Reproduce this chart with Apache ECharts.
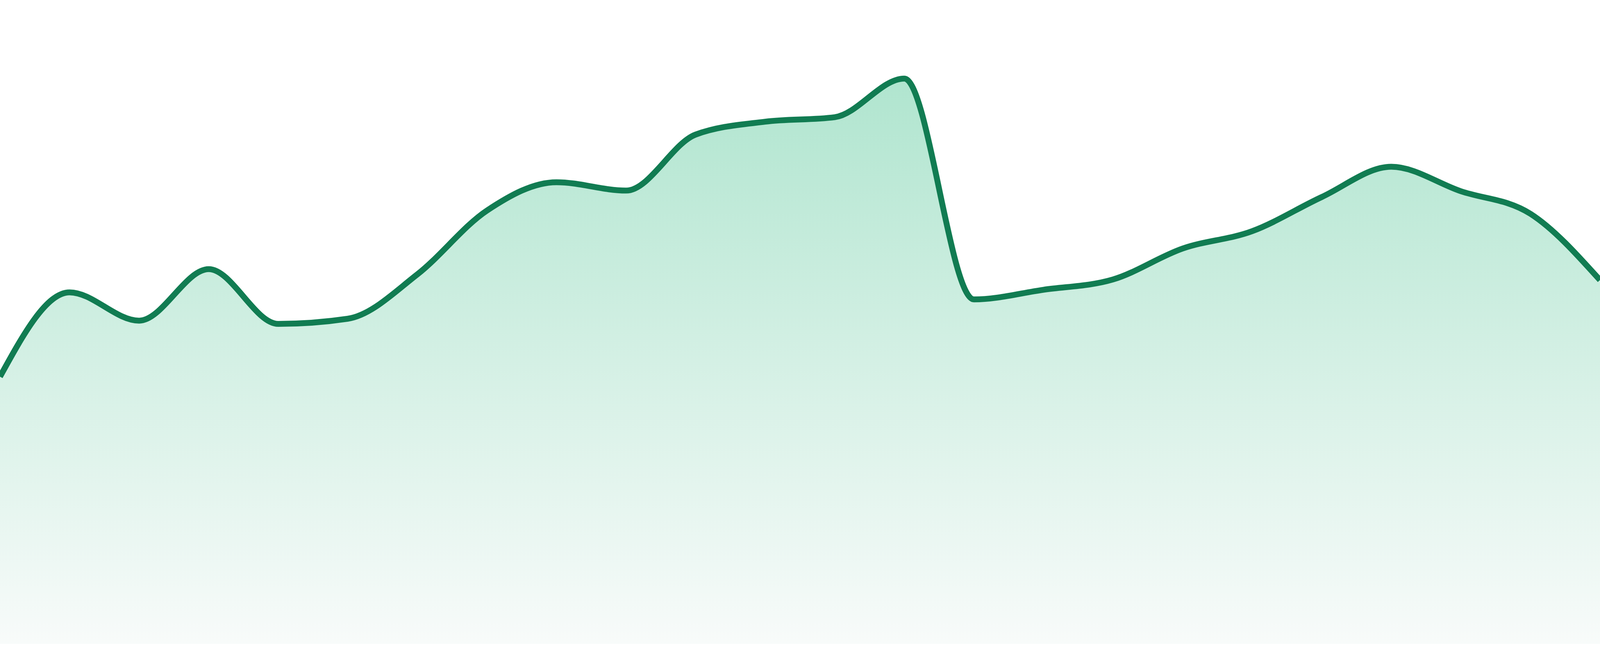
<!DOCTYPE html>
<html>
<head>
<meta charset="utf-8">
<script src="https://cdn.jsdelivr.net/npm/echarts@6/dist/echarts.min.js"></script>
<style>
html, body { margin: 0; padding: 0; background: #ffffff; width: 100%; height: 100%; overflow: hidden; }
#chart { position: absolute; left: 0; top: 0; width: 100vw; height: 100vh; }
</style>
</head>
<body>
<div id="chart"></div>
<script>
// ---- data ----
const categories = ['1','2','3','4','5','6','7','8','9','10','11','12',
                    '13','14','15','16','17','18','19','20','21','22','23','24'];
const values = [41.5, 54.6, 50.2, 58.2, 49.7, 50.5, 57.4, 67.3, 71.7, 70.4, 79.1, 81.1,
                81.8, 87.8, 53.5, 55.0, 56.6, 61.4, 64.1, 69.4, 74.1, 70.3, 66.8, 56.5];
const yMin = 0;
const yMax = 100;

// ---- style ----
const lineColor = '#117c52';
const fillTop = '#b0e5cf';
const fillBottom = '#f8fbfa';

// monotone cubic (Fritsch–Carlson) curve through the pixel points given by the axes
function sgn(v) { return v < 0 ? -1 : 1; }
function monotonePath(pts) {
  const n = pts.length;
  const h = [], s = [], t = new Array(n);
  for (let i = 0; i < n - 1; i++) {
    h[i] = pts[i + 1][0] - pts[i][0];
    s[i] = (pts[i + 1][1] - pts[i][1]) / h[i];
  }
  for (let i = 1; i < n - 1; i++) {
    const p = (s[i - 1] * h[i] + s[i] * h[i - 1]) / (h[i - 1] + h[i]);
    t[i] = (sgn(s[i - 1]) + sgn(s[i])) *
      Math.min(Math.abs(s[i - 1]), Math.abs(s[i]), 0.5 * Math.abs(p)) || 0;
  }
  t[0] = (3 * s[0] - t[1]) / 2;
  t[n - 1] = (3 * s[n - 2] - t[n - 2]) / 2;
  let d = 'M' + pts[0][0] + ' ' + pts[0][1];
  for (let i = 0; i < n - 1; i++) {
    const dx = h[i] / 3;
    d += ' C' + (pts[i][0] + dx) + ' ' + (pts[i][1] + dx * t[i]) + ' ' +
         (pts[i + 1][0] - dx) + ' ' + (pts[i + 1][1] - dx * t[i + 1]) + ' ' +
         pts[i + 1][0] + ' ' + pts[i + 1][1];
  }
  return d;
}

const el = document.getElementById('chart');
const unit = el.clientHeight / 1680;

const chart = echarts.init(el, null, { renderer: 'canvas' });
chart.setOption({
  animation: false,
  backgroundColor: '#ffffff',
  grid: { left: 0, right: 0, top: 0, bottom: 31 * unit, containLabel: false },
  xAxis: { type: 'category', data: categories, boundaryGap: false, show: false },
  yAxis: { type: 'value', min: yMin, max: yMax, show: false },
  series: [{
    type: 'custom',
    silent: true,
    data: values.map((v, i) => [i, v]),
    renderItem: function (params, api) {
      if (params.dataIndexInside !== 0) return null;
      const n = params.dataInsideLength;
      const pts = [];
      for (let i = 0; i < n; i++) {
        pts.push(api.coord([api.value(0, i), api.value(1, i)]));
      }
      const baseY = api.coord([0, yMin])[1];
      const curve = monotonePath(pts);
      const areaPath = curve + ' L' + pts[n - 1][0] + ' ' + baseY +
                       ' L' + pts[0][0] + ' ' + baseY + ' Z';
      return {
        type: 'group',
        children: [
          {
            type: 'path',
            shape: { pathData: areaPath },
            style: {
              fill: new echarts.graphic.LinearGradient(0, 0, 0, 1, [
                { offset: 0, color: fillTop },
                { offset: 1, color: fillBottom }
              ]),
              stroke: 'none'
            }
          },
          {
            type: 'path',
            shape: { pathData: curve },
            style: { fill: 'none', stroke: lineColor, lineWidth: 15 * unit, lineJoin: 'round' }
          }
        ]
      };
    }
  }]
});
</script>
</body>
</html>
